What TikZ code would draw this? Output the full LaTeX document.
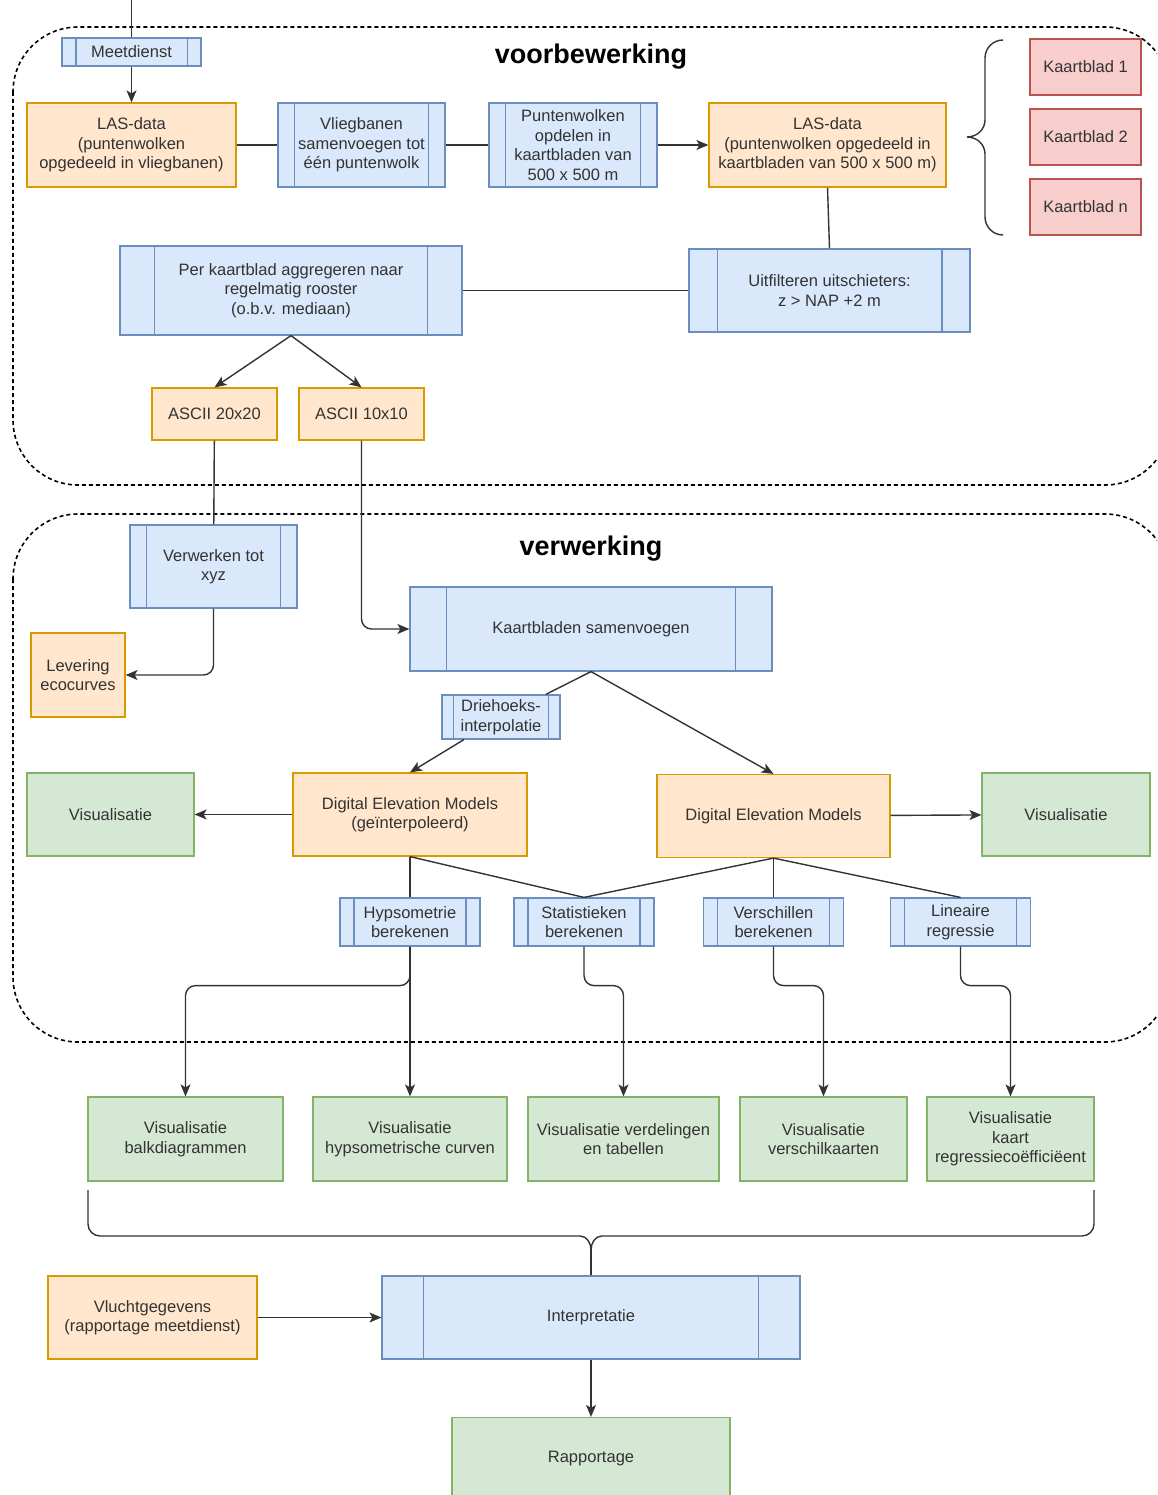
\documentclass[tikz,border=0pt]{standalone}
\usepackage{fontspec}
\setmainfont{Liberation Sans}
\usetikzlibrary{arrows.meta,calc}
\definecolor{procfill}{HTML}{DAE8FC}
\definecolor{procline}{HTML}{6C8EBF}
\definecolor{datafill}{HTML}{FFE6CC}
\definecolor{dataline}{HTML}{D79B00}
\definecolor{visfill}{HTML}{D5E8D4}
\definecolor{visline}{HTML}{82B366}
\definecolor{bladfill}{HTML}{F8CECC}
\definecolor{bladline}{HTML}{B85450}
\definecolor{tekst}{HTML}{333333}

\tikzset{
  box/.style={rectangle, line width=1.2pt, align=center, text=tekst, inner sep=2pt,
    font=\fontsize{16.5}{19.5}\selectfont},
  data/.style={box, draw=dataline, fill=datafill},
  vis/.style={box, draw=visline, fill=visfill},
  blad/.style={box, draw=bladline, fill=bladfill, minimum width=111, minimum height=56},
  proc/.style={box, draw=procline, fill=procfill, path picture={
      \draw[procline, line width=1.2pt]
        ($(path picture bounding box.north west)!.1!(path picture bounding box.north east)$) --
        ($(path picture bounding box.south west)!.1!(path picture bounding box.south east)$)
        ($(path picture bounding box.north west)!.9!(path picture bounding box.north east)$) --
        ($(path picture bounding box.south west)!.9!(path picture bounding box.south east)$);}},
  lijn/.style={line width=1.4pt, draw=black!80},
  pijl/.style={lijn, -{Stealth[length=12pt,width=10pt,inset=3pt]}},
  groep/.style={line width=1.6pt, dash pattern=on 4pt off 3pt, rounded corners=65},
  titel/.style={font=\fontsize{27}{30}\selectfont\bfseries}
}

\begin{document}
\begin{tikzpicture}[x=1pt,y=-1pt]
  \path[use as bounding box] (0,0) rectangle (1157,1495);
  \clip (0,0) rectangle (1157,1495);

  \draw[groep] (13,27) rectangle (1170,485);
  \draw[groep] (13,514) rectangle (1170,1042);
  \node[titel] (tvoor) at (591,57) {voorbewerking};
  \node[titel] (tver) at (591,549) {verwerking};

  \node[proc, minimum width=139, minimum height=28] (meet) at (131.5,52) {Meetdienst};
  \node[data, minimum width=209, minimum height=84] (las1) at (131.5,145) {LAS-data\\(puntenwolken\\opgedeeld in vliegbanen)};
  \node[proc, minimum width=167, minimum height=84] (vlieg) at (361.5,145) {Vliegbanen\\samenvoegen tot\\één puntenwolk};
  \node[proc, minimum width=168, minimum height=84] (punt) at (573,145) {Puntenwolken\\opdelen in\\kaartbladen van\\500 x 500 m};
  \node[data, minimum width=237, minimum height=84] (las2) at (827.5,145) {LAS-data\\(puntenwolken opgedeeld in\\kaartbladen van 500 x 500 m)};
  \node[blad] (kb1) at (1085.5,67) {Kaartblad 1};
  \node[blad] (kb2) at (1085.5,137) {Kaartblad 2};
  \node[blad] (kbn) at (1085.5,207) {Kaartblad n};
  \node[proc, minimum width=281, minimum height=83] (filt) at (829.5,290.5) {Uitfilteren uitschieters:\\z > NAP +2 m};
  \node[proc, minimum width=342, minimum height=89] (aggr) at (291,290.5) {Per kaartblad aggregeren naar\\regelmatig rooster\\(o.b.v. mediaan)};
  \node[data, minimum width=125, minimum height=52] (a20) at (214.5,414) {ASCII 20x20};
  \node[data, minimum width=125, minimum height=52] (a10) at (361.5,414) {ASCII 10x10};

  \node[proc, minimum width=167, minimum height=83] (xyz) at (213.5,566.5) {Verwerken tot\\xyz};
  \node[data, minimum width=94, minimum height=84] (lev) at (78,675) {Levering\\ecocurves};
  \node[proc, minimum width=362, minimum height=84] (kaart) at (591,629) {Kaartbladen samenvoegen};
  \node[proc, minimum width=118, minimum height=44] (drie) at (501,717) {Driehoeks-\\interpolatie};
  \node[data, minimum width=234, minimum height=83] (dem1) at (410,814.5) {Digital Elevation Models\\(geïnterpoleerd)};
  \node[data, minimum width=233, minimum height=83] (dem2) at (773.5,816) {Digital Elevation Models};
  \node[vis, minimum width=167, minimum height=83] (vis1) at (110.5,814.5) {Visualisatie};
  \node[vis, minimum width=168, minimum height=83] (vis2) at (1066,814.5) {Visualisatie};
  \node[proc, minimum width=140, minimum height=48] (hyp) at (410,922) {Hypsometrie\\berekenen};
  \node[proc, minimum width=140, minimum height=48] (stat) at (584,922) {Statistieken\\berekenen};
  \node[proc, minimum width=140, minimum height=48] (vers) at (773.5,922) {Verschillen\\berekenen};
  \node[proc, minimum width=140, minimum height=48] (lin) at (960.5,922) {Lineaire\\regressie};

  \node[vis, minimum width=195, minimum height=84] (balk) at (185.5,1139) {Visualisatie\\balkdiagrammen};
  \node[vis, minimum width=194, minimum height=84] (curv) at (410,1139) {Visualisatie\\hypsometrische curven};
  \node[vis, minimum width=191, minimum height=84] (verd) at (623.5,1139) {Visualisatie verdelingen\\en tabellen};
  \node[vis, minimum width=167, minimum height=84] (vkrt) at (823.5,1139) {Visualisatie\\verschilkaarten};
  \node[vis, minimum width=167, minimum height=84] (regr) at (1010.5,1139) {Visualisatie\\kaart\\regressiecoëfficiëent};
  \node[proc, minimum width=418, minimum height=83] (interp) at (591,1317.5) {Interpretatie};
  \node[data, minimum width=209, minimum height=83] (vlucht) at (152.5,1317.5) {Vluchtgegevens\\(rapportage meetdienst)};
  \node[vis, minimum width=278, minimum height=83] (rapp) at (591,1459) {Rapportage};

  \coordinate (begin) at (131.5,0);
  \draw[lijn] (begin) -- (meet);
  \draw[pijl] (meet) -- (las1);
  \draw[lijn] (las1) -- (vlieg);
  \draw[lijn] (vlieg) -- (punt);
  \draw[pijl] (punt) -- (las2);
  \draw[lijn] (las2.south) -- (filt.north);
  \draw[lijn] (filt) -- (aggr);
  \draw[pijl] (aggr.south) -- (a20.north);
  \draw[pijl] (aggr.south) -- (a10.north);
  \draw[lijn] (a20) -- (xyz);
  \draw[pijl, rounded corners=10] (xyz.south) |- (lev);
  \draw[pijl, rounded corners=10] (a10.south) |- (kaart);
  \draw[lijn] (kaart.south) -- (drie);
  \draw[pijl] (drie) -- (dem1.north);
  \draw[pijl] (kaart.south) -- (dem2.north);
  \draw[pijl] (dem1) -- (vis1);
  \draw[pijl] (dem2) -- (vis2);
  \draw[lijn] (dem1.south) -- (hyp.north);
  \draw[lijn] (dem1.south) -- (stat.north);
  \draw[lijn] (dem2.south) -- (stat.north);
  \draw[lijn] (dem2.south) -- (vers.north);
  \draw[lijn] (dem2.south) -- (lin.north);
  \draw[pijl, rounded corners=10] (hyp.south) -- ++(0,39) -| (balk.north);
  \draw[pijl] (hyp) -- (curv);
  \draw[pijl, rounded corners=10] (stat.south) -- ++(0,39) -| (verd.north);
  \draw[pijl, rounded corners=10] (vers.south) -- ++(0,39) -| (vkrt.north);
  \draw[pijl, rounded corners=10] (lin.south) -- ++(0,39) -| (regr.north);

  \draw[lijn] (1003,40) to[out=180,in=90] (985,58) -- (985,120) to[out=-90,in=0] (967,137)
    to[out=0,in=90] (985,154) -- (985,217) to[out=-90,in=180] (1003,235);
  \draw[lijn] (88,1190) -- (88,1224) to[out=-90,in=180] (100,1236) -- (580,1236) to[out=0,in=90] (591,1250)
    to[out=90,in=180] (602,1236) -- (1082,1236) to[out=0,in=-90] (1094,1224) -- (1094,1190);
  \coordinate (tip) at (591,1250);
  \draw[lijn] (tip) -- (interp.north);
  \draw[pijl] (vlucht) -- (interp);
  \draw[pijl] (interp) -- (rapp);
\end{tikzpicture}
\end{document}
